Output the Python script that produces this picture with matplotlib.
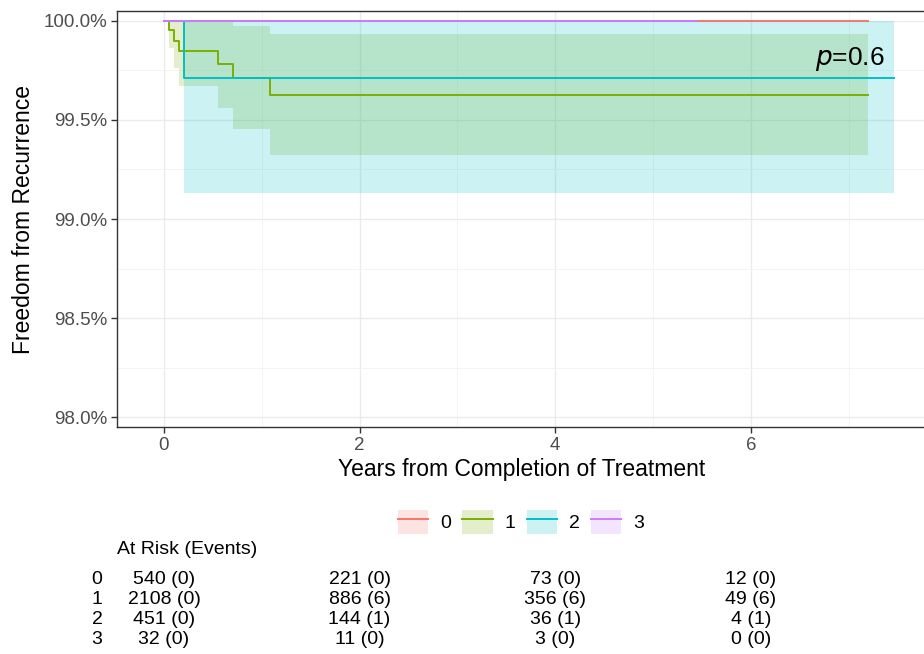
import matplotlib
matplotlib.use("Agg")
import matplotlib.pyplot as plt
from matplotlib.patches import Patch
from matplotlib.lines import Line2D
from matplotlib.ticker import FuncFormatter, MultipleLocator
import matplotlib.transforms as mtransforms

plt.rcParams['font.family'] = ['Liberation Sans', 'DejaVu Sans']

# strata and colours (ggplot hue palette)
groups = ['0', '1', '2', '3']
colors = ['#F8766D', '#7CAE00', '#00BFC4', '#C77CFF']

# Kaplan-Meier estimates (years, survival %)
t0 = [0, 7.2]
s0 = [100, 100]

t1 = [0, 0.05, 0.105, 0.155, 0.55, 0.71, 1.085, 7.2]
s1 = [100, 99.955, 99.90, 99.847, 99.78, 99.71, 99.625, 99.625]
lo1 = [100, 99.862, 99.763, 99.672, 99.562, 99.453, 99.325, 99.325]
hi1 = [100, 100, 100, 100, 100, 99.973, 99.936, 99.936]

t2 = [0, 0.205, 7.46]
s2 = [100, 99.71, 99.71]
lo2 = [100, 99.13, 99.13]
hi2 = [100, 100, 100]

t3 = [0, 5.45]
s3 = [100, 100]

# at-risk table
risk_times = [0, 2, 4, 6]
at_risk = [
    ['540 (0)', '221 (0)', '73 (0)', '12 (0)'],
    ['2108 (0)', '886 (6)', '356 (6)', '49 (6)'],
    ['451 (0)', '144 (1)', '36 (1)', '4 (1)'],
    ['32 (0)', '11 (0)', '3 (0)', '0 (0)'],
]

fig = plt.figure(figsize=(9.24, 6.54), dpi=100)
ax = fig.add_axes([117 / 924, 227 / 654, 810 / 924, 416 / 654])

# confidence bands
ax.fill_between(t1, lo1, hi1, step='post', color=colors[1], alpha=0.2, lw=0)
ax.fill_between(t2, lo2, hi2, step='post', color=colors[2], alpha=0.2, lw=0)

# survival curves
for t, s, c in zip([t0, t1, t2, t3], [s0, s1, s2, s3], colors):
    ax.step(t, s, where='post', color=c, lw=1.4)

ax.text(7.37, 99.81, r'$p$=0.6', ha='right', va='center', fontsize=19)

ax.set_xlim(-0.48, 7.8)
ax.set_ylim(97.95, 100.05)
ax.xaxis.set_major_locator(MultipleLocator(2))
ax.xaxis.set_minor_locator(MultipleLocator(1))
ax.yaxis.set_major_locator(MultipleLocator(0.5))
ax.yaxis.set_minor_locator(MultipleLocator(0.25))
ax.yaxis.set_major_formatter(FuncFormatter(lambda v, p: f'{v:.1f}%'))
ax.grid(which='major', color='#EBEBEB', lw=1.0)
ax.grid(which='minor', color='#F3F3F3', lw=0.6)
ax.set_axisbelow(True)
ax.tick_params(which='major', length=4, color='#333333', labelcolor='#4D4D4D',
               labelsize=13.5, width=1, pad=3)
ax.tick_params(which='minor', length=0)
for sp in ax.spines.values():
    sp.set_color('#333333')
    sp.set_linewidth(1)

ax.set_xlabel('Years from Completion of Treatment', fontsize=16.5, labelpad=3)
ax.set_ylabel('Freedom from Recurrence', fontsize=16.5, labelpad=6)

# legend with shaded keys
handles = [(Patch(facecolor=c, alpha=0.2, edgecolor='none'), Line2D([], [], color=c, lw=1.4))
           for c in colors]
fig.legend(handles, groups, loc='center', bbox_to_anchor=(521 / 924, 1 - 522 / 654),
           ncol=4, frameon=False, fontsize=14, handlelength=1.55, handleheight=1.55,
           columnspacing=0.6, handletextpad=0.6)

# risk table
fig.text(117 / 924, 1 - 550 / 654, 'At Risk (Events)', fontsize=14, va='center', ha='left')
trans = mtransforms.blended_transform_factory(ax.transData, fig.transFigure)
row_y = [579, 599, 620, 640]
for g, row, y in zip(groups, at_risk, row_y):
    fig.text(97 / 924, 1 - y / 654, g, fontsize=14, va='center', ha='center')
    for x, lab in zip(risk_times, row):
        ax.text(x, 1 - y / 654, lab, transform=trans, fontsize=14,
                va='center', ha='center', clip_on=False)

fig.savefig('out.png', dpi=100)
